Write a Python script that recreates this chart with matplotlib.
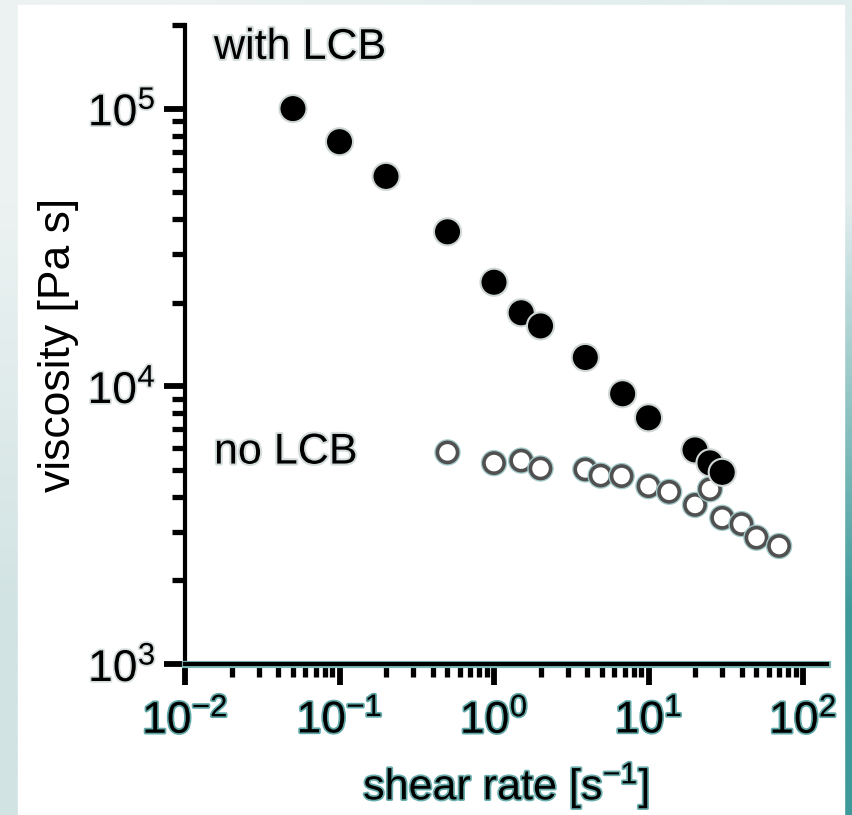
import numpy as np
import matplotlib
matplotlib.use('Agg')
import matplotlib.pyplot as plt
import matplotlib.patheffects as pe
from matplotlib.patches import Rectangle

plt.rcParams['font.family'] = ['Liberation Sans', 'DejaVu Sans']
plt.rcParams['mathtext.fontset'] = 'custom'
plt.rcParams['mathtext.rm'] = 'Liberation Sans'
plt.rcParams['mathtext.it'] = 'Liberation Sans:italic'
plt.rcParams['mathtext.bf'] = 'Liberation Sans:bold'

# Viscosity vs shear rate
lcb_rate = [0.05, 0.1, 0.2, 0.5, 1.0, 1.5, 2.0, 3.9, 6.8, 10, 20, 25, 30]
lcb_visc = [100000, 76000, 57000, 36000, 23700, 18400, 16500, 12700, 9400, 7700, 5900, 5300, 4900]

nolcb_rate = [0.5, 1.0, 1.5, 2.0, 3.9, 4.9, 6.7, 10, 13.6, 20, 25, 30, 40, 50, 70]
nolcb_visc = [5780, 5290, 5400, 5060, 5020, 4770, 4750, 4370, 4170, 3740, 4260, 3360, 3190, 2850, 2660]

fig = plt.figure(figsize=(8.52, 8.15), dpi=100)

# background frame: light gradient on the left, teal strip on the right
bg = fig.add_axes([0, 0, 1, 1], zorder=-10)
bg.axis('off')
left_col = np.array([[236, 242, 242], [210, 227, 227]]) / 255
right_col = np.array([[226, 237, 237], [62, 154, 154]]) / 255
grad = np.stack([left_col, right_col], axis=1)
bg.imshow(grad, extent=[0, 1, 0, 1], aspect='auto', interpolation='bilinear')
bg.add_patch(Rectangle((18 / 852, 0), (844 - 18) / 852, 810 / 815, color='white'))
bg.set_xlim(0, 1)
bg.set_ylim(0, 1)

ax = fig.add_axes([185 / 852, 151 / 815, 642 / 852, 639 / 815])
ax.set_facecolor('none')
ax.set_xscale('log')
ax.set_yscale('log')
ax.set_xlim(0.01, 143)
ax.set_ylim(1e3, 2e5)

halo_grey = [pe.withStroke(linewidth=3, foreground='#d5dcdc')]
halo_teal = [pe.withStroke(linewidth=4.5, foreground='#a3caca')]

ax.plot(nolcb_rate, nolcb_visc, 'o', ms=14.5, mfc='white', mec='#505050', mew=2.6,
        linestyle='none', path_effects=halo_teal, zorder=3)
ax.plot(lcb_rate, lcb_visc, 'o', ms=17, mfc='black', mec='black', mew=1,
        linestyle='none', path_effects=[pe.withStroke(linewidth=4, foreground='#cfd6d6')],
        zorder=4)

ax.text(0.0154, 1.51e5, 'with LCB', fontsize=31, ha='left', va='baseline',
        path_effects=halo_grey)
ax.text(0.0154, 5270, 'no LCB', fontsize=31, ha='left', va='baseline',
        path_effects=halo_grey)

for side in ['top', 'right']:
    ax.spines[side].set_visible(False)
for side in ['left', 'bottom']:
    ax.spines[side].set_linewidth(3.0)
ax.spines['bottom'].set_path_effects([pe.withStroke(linewidth=5.2, foreground='#7fb9b9')])

ax.tick_params(which='major', direction='out', length=15, width=4.2, pad=10, labelsize=32)
ax.tick_params(which='minor', direction='out', length=9.5, width=3.8)
ax.tick_params(axis='y', which='major', pad=6)

for lab in ax.get_xticklabels():
    lab.set_path_effects([pe.withStroke(linewidth=2.5, foreground='#62a9a9')])
for lab in ax.get_yticklabels():
    lab.set_path_effects([pe.withStroke(linewidth=2.5, foreground='#d6dddd')])

ax.set_xlabel('shear rate [s$^{-1}$]', fontsize=31, labelpad=14,
              path_effects=[pe.withStroke(linewidth=2.5, foreground='#6aadad')])
ax.set_ylabel('viscosity [Pa s]', fontsize=32, labelpad=6)

fig.savefig('out.png', dpi=100)
